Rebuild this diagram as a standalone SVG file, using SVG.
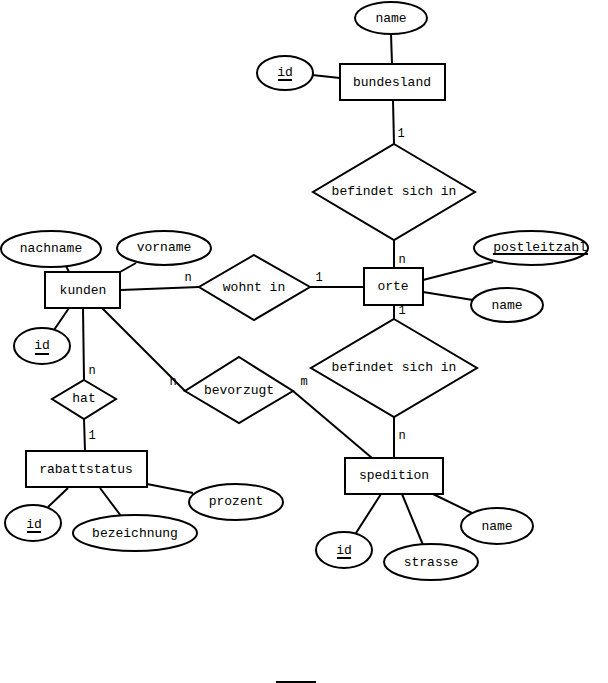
<svg xmlns="http://www.w3.org/2000/svg" width="608" height="683" viewBox="0 0 608 683">
<style>
.s{fill:#fff;stroke:#000;stroke-width:2}
.c line{stroke:#000;stroke-width:2}
text{font-family:"Liberation Mono","DejaVu Sans Mono",monospace;font-size:13px;fill:#000;text-anchor:middle;dominant-baseline:central}
.u{stroke:#000;stroke-width:2}
.l{font-size:12px}
</style>
<rect width="608" height="683" fill="#fff"/>
<g id="connectors" class="c">
<line x1="312" y1="75" x2="340" y2="78"/>
<line x1="391" y1="34" x2="392" y2="64"/>
<line x1="393" y1="100" x2="394" y2="144"/>
<line x1="394" y1="240" x2="394" y2="268"/>
<line x1="423" y1="280" x2="493" y2="262"/>
<line x1="423" y1="292" x2="473" y2="300"/>
<line x1="121" y1="290" x2="199" y2="287"/>
<line x1="310" y1="287" x2="364" y2="287"/>
<line x1="66" y1="266" x2="69" y2="272"/>
<line x1="136" y1="263" x2="120" y2="272"/>
<line x1="54" y1="330" x2="69" y2="308"/>
<line x1="83" y1="308" x2="84" y2="380"/>
<line x1="84" y1="419" x2="85" y2="451"/>
<line x1="147" y1="484" x2="193" y2="493"/>
<line x1="68" y1="488" x2="48" y2="507"/>
<line x1="100" y1="488" x2="121" y2="516"/>
<line x1="394" y1="305" x2="394" y2="319"/>
<line x1="394" y1="417" x2="394" y2="458"/>
<line x1="433" y1="494" x2="472" y2="513"/>
<line x1="381" y1="494" x2="356" y2="533"/>
<line x1="402" y1="494" x2="423" y2="545"/>
<line x1="102" y1="308" x2="185" y2="391"/>
<line x1="293" y1="391" x2="372" y2="458"/>
<line x1="276" y1="682" x2="316" y2="682"/>
</g>
<g id="labels">
<text class="l" x="401" y="134">1</text>
<text class="l" x="402" y="260">n</text>
<text class="l" x="188" y="278">n</text>
<text class="l" x="319" y="278">1</text>
<text class="l" x="402" y="311">1</text>
<text class="l" x="402" y="436">n</text>
<text class="l" x="92" y="371">n</text>
<text class="l" x="92" y="436">1</text>
<text class="l" x="173" y="382">n</text>
<text class="l" x="304" y="382">m</text>
</g>
<g id="bundesland"><rect class="s" x="340" y="64" width="105" height="36"/><text x="392" y="82">bundesland</text></g>
<g id="bundesland-name"><ellipse class="s" cx="391" cy="18" rx="36" ry="16"/><text x="391" y="18">name</text></g>
<g id="bundesland-id"><ellipse class="s" cx="285" cy="73" rx="28" ry="17"/><text x="285" y="72">id</text><line class="u" x1="278" y1="80" x2="292" y2="80"/></g>
<g id="befindet1"><polygon class="s" points="394,144 475,192 394,240 313,192"/><text x="394" y="191">befindet sich in</text></g>
<g id="orte"><rect class="s" x="364" y="268" width="59" height="37"/><text x="393" y="286">orte</text></g>
<g id="postleitzahl"><ellipse class="s" cx="531" cy="248" rx="57" ry="17"/><text x="540" y="247">postleitzahl</text><line class="u" x1="493" y1="254" x2="588" y2="254"/></g>
<g id="orte-name"><ellipse class="s" cx="507" cy="305" rx="36" ry="17"/><text x="507" y="305">name</text></g>
<g id="wohntin"><polygon class="s" points="254,255 310,287 254,320 199,287"/><text x="254" y="287">wohnt in</text></g>
<g id="kunden"><rect class="s" x="45" y="272" width="75" height="36"/><text x="83" y="290">kunden</text></g>
<g id="nachname"><ellipse class="s" cx="51" cy="249" rx="50" ry="18"/><text x="51" y="248">nachname</text></g>
<g id="vorname"><ellipse class="s" cx="164" cy="248" rx="47" ry="17"/><text x="164" y="247">vorname</text></g>
<g id="kunden-id"><ellipse class="s" cx="42" cy="346" rx="28" ry="18"/><text x="42" y="345">id</text><line class="u" x1="35" y1="354" x2="49" y2="354"/></g>
<g id="hat"><polygon class="s" points="84,380 116,399 84,419 52,399"/><text x="84" y="398">hat</text></g>
<g id="rabattstatus"><rect class="s" x="26" y="451" width="121" height="36"/><text x="86" y="469">rabattstatus</text></g>
<g id="prozent"><ellipse class="s" cx="236" cy="502" rx="47" ry="18"/><text x="236" y="501">prozent</text></g>
<g id="rabatt-id"><ellipse class="s" cx="33" cy="523" rx="28" ry="18"/><text x="34" y="524">id</text><line class="u" x1="27" y1="532" x2="41" y2="532"/></g>
<g id="bezeichnung"><ellipse class="s" cx="135" cy="533" rx="62" ry="18"/><text x="135" y="533">bezeichnung</text></g>
<g id="befindet2"><polygon class="s" points="394,319 477,368 394,417 311,368"/><text x="394" y="367">befindet sich in</text></g>
<g id="spedition"><rect class="s" x="345" y="458" width="98" height="36"/><text x="394" y="475">spedition</text></g>
<g id="spedition-name"><ellipse class="s" cx="497" cy="526" rx="36" ry="18"/><text x="497" y="526">name</text></g>
<g id="spedition-id"><ellipse class="s" cx="344" cy="550" rx="28" ry="18"/><text x="344" y="550">id</text><line class="u" x1="337" y1="558" x2="351" y2="558"/></g>
<g id="strasse"><ellipse class="s" cx="431" cy="562" rx="47" ry="18"/><text x="431" y="562">strasse</text></g>
<g id="bevorzugt"><polygon class="s" points="239,357 293,391 239,423 185,391"/><text x="239" y="390">bevorzugt</text></g>
</svg>
